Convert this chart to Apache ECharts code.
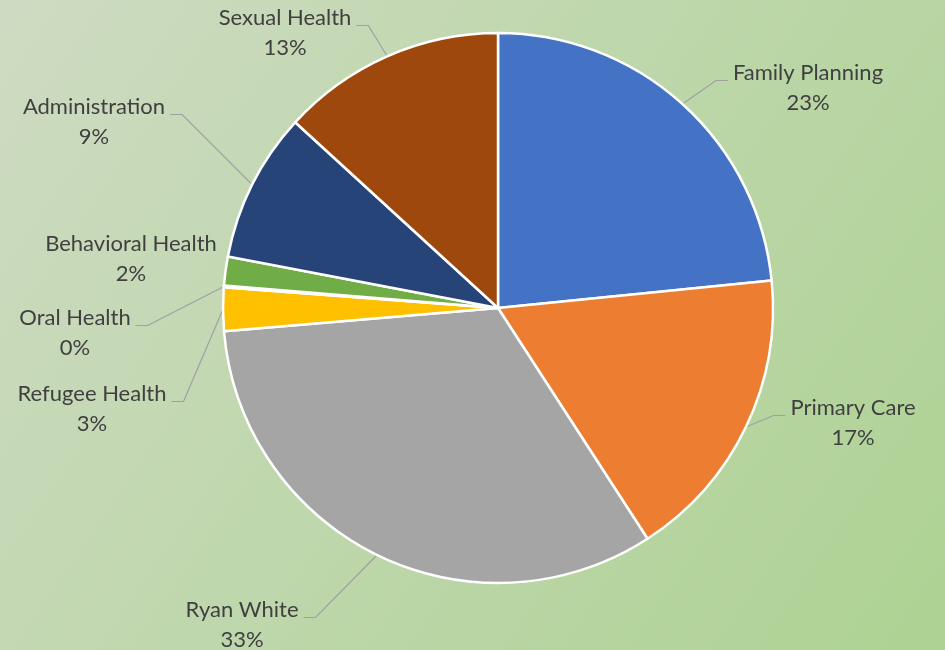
<!DOCTYPE html>
<html>
<head>
<meta charset="utf-8">
<script src="https://cdn.jsdelivr.net/npm/echarts@6/dist/echarts.min.js"></script>
<style>
html,body{margin:0;padding:0;}
#chart{width:945px;height:650px;}
</style>
</head>
<body>
<div id="chart"></div>
<script>
// Data
const categories = ['Family Planning', 'Primary Care', 'Ryan White', 'Refugee Health', 'Oral Health', 'Behavioral Health', 'Administration', 'Sexual Health'];
const shares = [23.4, 17.45, 32.8, 2.55, 0.1, 1.7, 8.8, 13.2];
const sliceColors = ['#4472C4', '#ED7D31', '#A5A5A5', '#FFC000', '#5B9BD5', '#70AD47', '#264478', '#9E480E'];

// Label placement (centre of the first text line), layout only
const labelAnchors = [[808, 73], [853, 408], [242, 610], [92, 394], [75, 318], [131, 244], [94, 107], [285, 18]];
const LINE_H = 30, PAD_TOP = 15;

const total = shares.reduce((a, b) => a + b, 0);
const chart = echarts.init(document.getElementById('chart'), null, {renderer: 'canvas'});
chart.setOption({
  backgroundColor: {
    type: 'linear', x: 0, y: 0, x2: 1, y2: 1,
    colorStops: [{offset: 0, color: '#cedbc2'}, {offset: 1, color: '#add293'}]
  },
  animation: false,
  series: [{
    type: 'pie',
    center: [498, 308],
    radius: 275,
    startAngle: 90,
    clockwise: true,
    avoidLabelOverlap: false,
    itemStyle: {borderColor: '#ffffff', borderWidth: 2.5},
    label: {
      show: true,
      position: 'outside',
      fontFamily: 'Lato',
      fontSize: 22,
      color: '#404040',
      lineHeight: LINE_H,
      align: 'center',
      padding: [PAD_TOP, 5, 0, 5],
      formatter: p => p.name + '\n' + Math.round(p.value / total * 100) + '%'
    },
    labelLine: {show: true, length: 15, length2: 12, lineStyle: {color: '#a0a0a0', width: 1.2}},
    labelLayout: function (params) {
      const a = labelAnchors[params.dataIndex];
      return {x: a[0], y: a[1] - LINE_H / 2 - PAD_TOP, align: 'center', verticalAlign: 'top'};
    },
    data: categories.map((c, i) => ({
      name: c,
      value: shares[i],
      itemStyle: {color: sliceColors[i]},
      labelLine: c === 'Behavioral Health' ? {show: false} : undefined
    }))
  }]
});
</script>
</body>
</html>
